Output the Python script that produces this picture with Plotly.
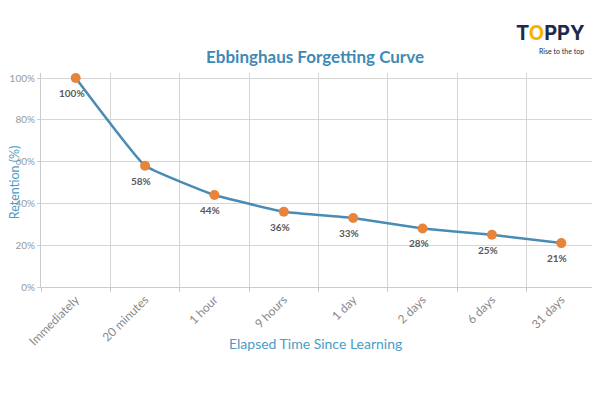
import plotly.graph_objects as go

categories = ["Immediately", "20 minutes", "1 hour", "9 hours", "1 day", "2 days", "6 days", "31 days"]
retention = [100, 58, 44, 36, 33, 28, 25, 21]
y_ticks = [0, 20, 40, 60, 80, 100]
y_tick_labels = ["0%", "20%", "40%", "60%", "80%", "100%"]
point_labels = [f"{v}%" for v in retention]

fig = go.Figure()
fig.add_trace(go.Scatter(
    x=categories, y=retention,
    mode="lines+markers",
    line=dict(color="#4a8bb6", width=2.5, shape="spline", smoothing=0.3),
    marker=dict(color="#e8833a", size=10),
    cliponaxis=False,
    hoverinfo="skip",
))

for c, v, t in zip(categories, retention, point_labels):
    fig.add_annotation(
        x=c, y=v, text=f"<b>{t}</b>", showarrow=False,
        yshift=-15, xshift=-4,
        font=dict(family="Lato", size=10, color="#5a5a5a"),
    )

fig.update_layout(
    width=592, height=392,
    margin=dict(l=33, r=4, t=65, b=113),
    paper_bgcolor="white", plot_bgcolor="white",
    showlegend=False,
    font=dict(family="Lato", color="#888888"),
    title=dict(text="<b>Ebbinghaus Forgetting Curve</b>", x=0.5186, xanchor="center",
               y=0.875, yanchor="middle",
               font=dict(family="Lato", size=17, color="#3f8ab5")),
)
fig.update_xaxes(
    type="category", tickson="boundaries", range=[-0.5, 7.5],
    automargin=False,
    showgrid=True, gridcolor="#d6d6d6", gridwidth=1,
    showline=True, linecolor="#cccccc", linewidth=1,
    ticks="outside", ticklen=4, tickcolor="#cccccc",
    tickangle=-45, tickfont=dict(family="Lato", size=12, color="#8a8a8a"),
)
fig.update_yaxes(
    range=[0, 102.4], tickvals=y_ticks, ticktext=y_tick_labels,
    automargin=False,
    showgrid=True, gridcolor="#d6d6d6", gridwidth=1,
    showline=True, linecolor="#cccccc", linewidth=1,
    ticks="outside", ticklen=3, tickcolor="#cccccc",
    tickfont=dict(family="Lato", size=10, color="#999999"),
    zeroline=False,
)

fig.add_annotation(
    xref="paper", yref="paper", x=-0.0485, y=0.49, xanchor="center", yanchor="middle",
    text="Retention (%)", textangle=-90, showarrow=False,
    font=dict(family="Lato", size=12.5, color="#4a9cc4"),
)
fig.add_annotation(
    xref="paper", yref="paper", x=0.494, y=-0.262, xanchor="center", yanchor="middle",
    text="Elapsed Time Since Learning", showarrow=False,
    font=dict(family="Lato", size=14, color="#4a9cc4"),
)
fig.add_annotation(
    xref="paper", yref="paper", x=0.984, y=1.187, xanchor="right", yanchor="middle",
    text="<b>T<span style='color:#f4b400'>O</span>PPY</b>", showarrow=False,
    font=dict(family="Inter", size=20, color="#1e2a4a"),
)
fig.add_annotation(
    xref="paper", yref="paper", x=0.982, y=1.103, xanchor="right", yanchor="middle",
    text="Rise to the top", showarrow=False,
    font=dict(family="Lato", size=7, color="#1e2a4a"),
)

fig.write_html("out.html")
